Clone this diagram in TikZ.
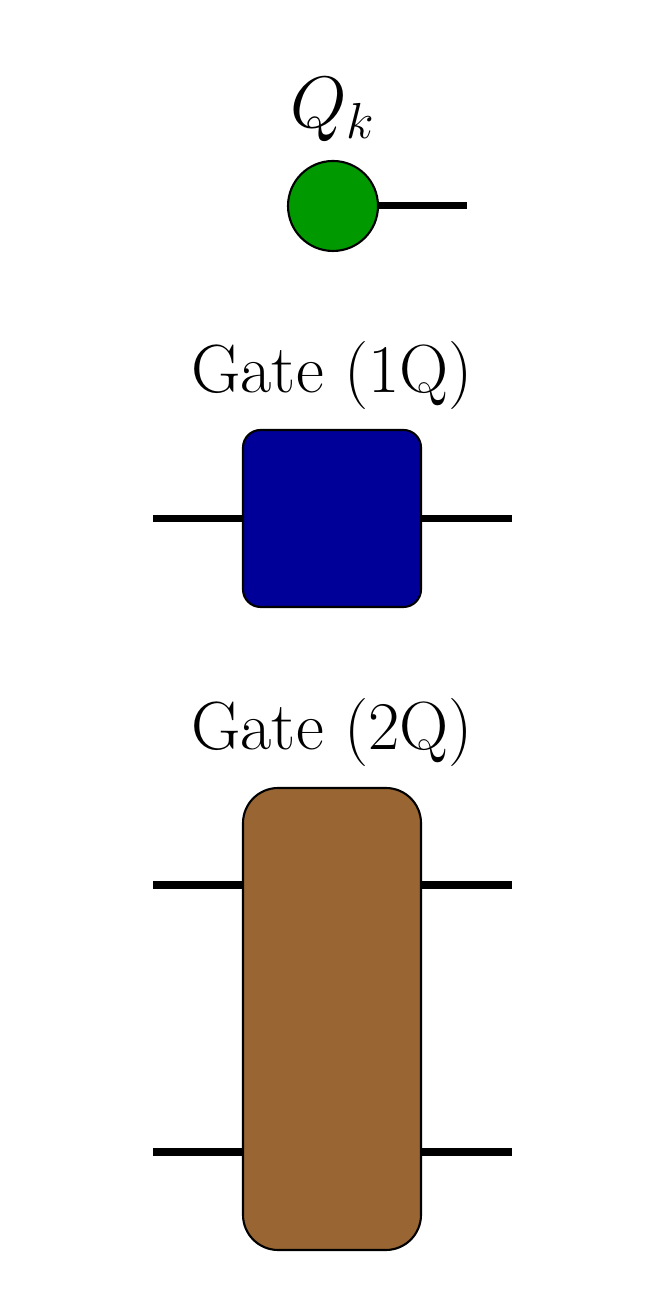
\documentclass[tikz,border=0pt]{standalone}
\usepackage{amsmath}
\usepackage{amssymb}
\usepackage{tikz}
\usetikzlibrary{positioning}

\definecolor{qubitgreen}{RGB}{0,153,0}
\definecolor{gateblue}{RGB}{0,0,153}
\definecolor{gatebrown}{RGB}{153,102,51}

\begin{document}
\begin{tikzpicture}[
    wire/.style={line width=2pt},
    gatebox/.style={draw,line width=0.6pt,rounded corners=5pt,minimum width=1.78cm,inner sep=0pt},
    lbl/.style={font=\fontsize{19.4}{23}\selectfont}
    ]

    \useasboundingbox (0,0) rectangle (6.65,13.14);

    % qubit
    \node[circle,draw,line width=0.6pt,fill=qubitgreen,minimum size=0.9cm,inner sep=0pt] (qk) at (3.33,11.08) {};
    \coordinate (qkend) at (4.67,11.08);
    \draw[wire] (qk.east) to (qkend);
    \node[lbl] (qklbl) at (3.33,12.04) {$Q_k$};

    % one-qubit gate
    \node[gatebox,fill=gateblue,minimum height=1.77cm] (g1) at (3.32,7.955) {};
    \coordinate (g1in) at (1.53,7.955);
    \coordinate (g1out) at (5.12,7.955);
    \draw[wire] (g1in) to (g1.west);
    \draw[wire] (g1.east) to (g1out);
    \node[lbl] (g1lbl) at (3.32,9.38) {Gate (1Q)};

    % two-qubit gate
    \node[gatebox,fill=gatebrown,minimum height=4.62cm,rounded corners=10pt] (g2) at (3.32,2.95) {};
    \foreach \y/\n in {4.29/a,1.62/b} {
        \coordinate (g2in\n) at (1.53,\y);
        \coordinate (g2out\n) at (5.12,\y);
        \draw[wire] (g2in\n) to (g2in\n -| g2.west);
        \draw[wire] (g2out\n -| g2.east) to (g2out\n);
    }
    \node[lbl] (g2lbl) at (3.32,5.81) {Gate (2Q)};

\end{tikzpicture}
\end{document}
